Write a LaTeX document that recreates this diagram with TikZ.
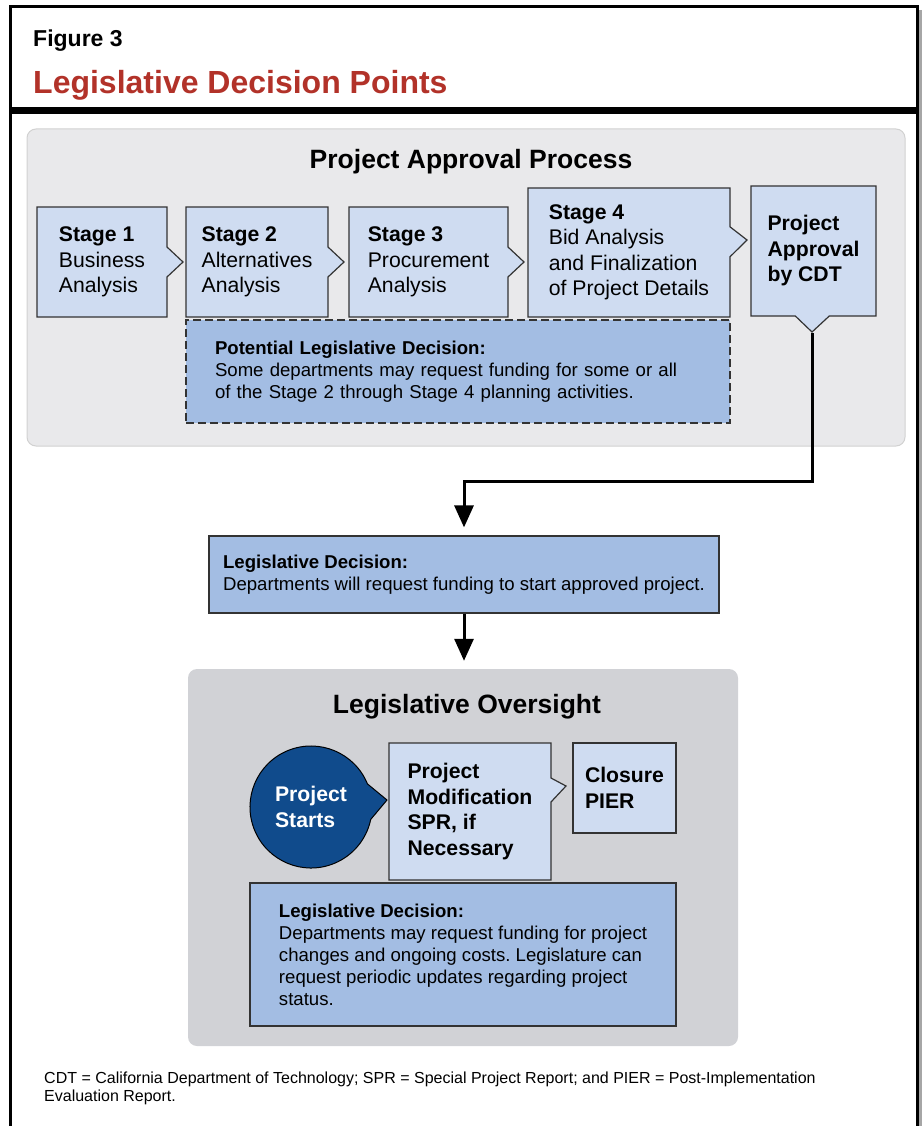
\documentclass[tikz,border=0pt]{standalone}
\usepackage{fontspec}
\setmainfont{Liberation Sans}
\frenchspacing
\usetikzlibrary{shapes.callouts,arrows.meta,positioning}

\definecolor{stageblue}{RGB}{207,220,241}
\definecolor{decisionblue}{RGB}{163,189,227}
\definecolor{processgray}{RGB}{233,233,235}
\definecolor{oversightgray}{RGB}{209,210,214}
\definecolor{startblue}{RGB}{16,75,140}
\definecolor{titlered}{RGB}{178,50,41}

\tikzset{>={Triangle[width=19pt,length=22pt]}, % big filled heads on the flow arrows
stagebox/.style={rectangle callout, draw=black!80, line width=1.2pt, fill=stageblue,
  align=left, inner sep=0pt, font=\fontsize{21.2}{25.5}\selectfont}, % boxes with a pointer
decision/.style={rectangle, draw=black!80, line width=1.2pt, fill=decisionblue,
  align=left, inner sep=0pt, font=\fontsize{18.6}{22}\selectfont}, % funding decisions
panel/.style={rectangle, rounded corners=9pt, inner sep=0pt}, % grey backdrops
paneltitle/.style={anchor=base, inner sep=0pt, font=\fontsize{26.5}{30}\selectfont\bfseries},
flow/.style={->, line width=3pt, shorten >=8pt}, % connectors between the parts
}

\begin{document}
\begin{tikzpicture}[x=1pt, y=-1pt]
\useasboundingbox (0,0) rectangle (922,1126);

% frame and heading
\draw[black!35, line width=2.5pt] (920.5,10) -- (920.5,1126);
\draw[line width=3pt] (10,1126) -- (10,7) -- (917.5,7) -- (917.5,1126);
\fill (10,107) rectangle (917.5,114);
\node[anchor=base west, inner sep=0pt, font=\fontsize{23}{28}\selectfont\bfseries] (fignum) at (33,47) {Figure 3};
\node[anchor=base west, inner sep=0pt, text=titlered, font=\fontsize{32}{38}\selectfont\bfseries] (figtitle) at (33,94) {Legislative Decision Points};

% approval process
\node[panel, draw=black!18, line width=1pt, fill=processgray, minimum width=878pt, minimum height=317pt] (approval) at (466,287.5) {};
\node[paneltitle] (approvaltitle) at (471,168) {Project Approval Process};

\node[stagebox, minimum width=130pt, minimum height=110pt, callout absolute pointer={(183,262)}, callout pointer width=30pt] (stage1) at (102,262) {\textbf{Stage 1}\\Business\\Analysis};
\node[stagebox, minimum width=142pt, minimum height=110pt, callout absolute pointer={(344,262)}, callout pointer width=30pt] (stage2) at (257,262) {\textbf{Stage 2}\\Alternatives\\Analysis};
\node[stagebox, minimum width=159pt, minimum height=110pt, callout absolute pointer={(524,262)}, callout pointer width=30pt] (stage3) at (428.5,262) {\textbf{Stage 3}\\Procurement\\Analysis};
\node[stagebox, minimum width=202pt, minimum height=129pt, callout absolute pointer={(747,240)}, callout pointer width=30pt] (stage4) at (629,252.5) {\textbf{Stage 4}\\Bid Analysis\\and Finalization\\of Project Details};
\node[stagebox, font=\fontsize{21.2}{25.5}\selectfont\bfseries, minimum width=125pt, minimum height=130pt, callout absolute pointer={(812,332)}, callout pointer width=34pt] (cdt) at (813.5,251) {Project\\Approval\\by CDT};

\node[decision, dash pattern=on 8pt off 4pt, minimum width=544pt, minimum height=103pt, text width=486pt] (potential) at (458,371.5)
  {\textbf{Potential Legislative Decision:}\\Some departments may request funding for some or all\\of the Stage 2 through Stage 4 planning activities.};

% funding to start
\node[decision, minimum width=510pt, minimum height=77pt] (dec1) at (464,574.5)
  {\textbf{Legislative Decision:}\\Departments will request funding to start approved project.};

% oversight
\node[panel, fill=oversightgray, minimum width=550pt, minimum height=377pt] (oversight) at (463,857.5) {};
\node[paneltitle] (oversighttitle) at (467,713) {Legislative Oversight};

\node[ellipse callout, draw=black, line width=1pt, fill=startblue, text=white, align=left, inner sep=0pt,
  font=\fontsize{21.2}{25.5}\selectfont\bfseries, minimum width=122pt, minimum height=122pt,
  callout absolute pointer={(387,800)}, callout pointer arc=34] (start) at (311,807) {Project\\Starts};
\node[stagebox, font=\fontsize{21.2}{25.5}\selectfont\bfseries, minimum width=162pt, minimum height=137pt, callout absolute pointer={(566,786)}, callout pointer width=24pt] (modify) at (470,811.5) {Project\\Modification\\SPR, if\\Necessary};
\node[stagebox, rectangle, font=\fontsize{21.2}{25.5}\selectfont\bfseries, minimum width=103pt, minimum height=90pt] (closure) at (624.5,788) {Closure\\PIER};

\node[decision, minimum width=426pt, minimum height=143pt] (dec2) at (463,954.5)
  {\textbf{Legislative Decision:}\\Departments may request funding for project\\changes and ongoing costs. Legislature can\\request periodic updates regarding project\\status.};

\draw[flow] (cdt.pointer) -- ++(0,149) -| (dec1.north);
\draw[flow] (dec1.south) -- (dec1.south |- oversight.north);

% abbreviations
\node[anchor=base west, align=left, inner sep=0pt, font=\fontsize{16}{18}\selectfont] (note) at (44,1101)
  {CDT = California Department of Technology; SPR = Special Project Report; and PIER = Post-Implementation\\Evaluation Report.};
\end{tikzpicture}
\end{document}
